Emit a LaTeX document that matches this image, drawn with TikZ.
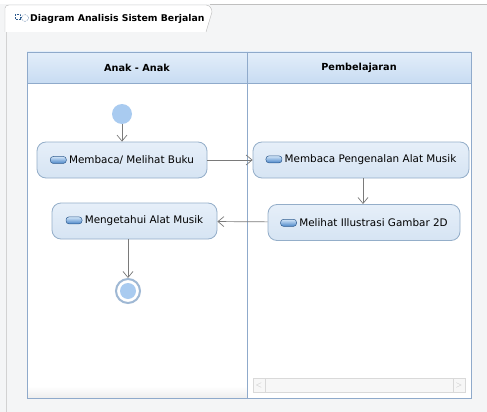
\documentclass[tikz,border=0pt]{standalone}
\usepackage{fontspec}
\setmainfont{DejaVu Sans}
\usetikzlibrary{arrows.meta}
\definecolor{bgc}{HTML}{F4F5F6}
\definecolor{lanec}{HTML}{8FAACB}
\definecolor{headtop}{HTML}{E3EEFA}
\definecolor{headbot}{HTML}{C8DCF2}
\definecolor{acttop}{HTML}{E6EFF9}
\definecolor{actbot}{HTML}{D6E4F3}
\definecolor{actdraw}{HTML}{94AEC9}
\definecolor{dotc}{HTML}{A9CBF0}
\definecolor{arrc}{HTML}{7A7A7A}
\definecolor{pilltop}{HTML}{D2E5F8}
\definecolor{pillbot}{HTML}{4A86C8}
\definecolor{pilldraw}{HTML}{2F5C8F}
\tikzset{
  act/.style={draw=actdraw, top color=acttop, bottom color=actbot, rounded corners=9pt, line width=0.8pt, minimum height=36pt, font=\fontsize{10.4}{12}\selectfont, inner sep=0pt},
  flow/.style={draw=arrc, line width=0.7pt, -{Straight Barb[length=6pt,width=10pt]}},
  lanehead/.style={font=\bfseries\fontsize{9.7}{11}\selectfont},
}
\newcommand{\pillicon}{\tikz[baseline=-6.5pt]\draw[draw=pilldraw, top color=pilltop, bottom color=pillbot, rounded corners=3pt, line width=0.5pt] (0,0.5pt) rectangle (16pt,-6.5pt);\hspace{2.5pt}}
\begin{document}
\begin{tikzpicture}[x=1pt,y=-1pt]
\useasboundingbox (0,0) rectangle (487,412);
\fill[bgc] (0,0) rectangle (487,412);
\fill[white] (0,0) rectangle (487,4);
\draw[gray!50] (210,4.5) -- (487,4.5);
\draw[gray!35] (6,32) -- (6,412);
% tab
\path[fill=white, draw=gray!55] (5,32) -- (5,8) to[out=90,in=180] (9,5) -- (206,5) to[out=0,in=90] (212,12) -- (206,32);
\node[anchor=west, font=\bfseries\fontsize{9.3}{10}\selectfont, inner sep=0pt] (title) at (30,18.5) {Diagram Analisis Sistem Berjalan};
\node[anchor=east, inner sep=0pt] (ticon) at (29,18) {\tikz{\draw[densely dotted, pilldraw, line width=0.5pt] (0,0) circle (3.5pt); \draw[densely dotted, pilldraw, line width=0.5pt] (-10pt,-1pt) rectangle (-5pt,3.5pt); \draw[pilldraw] (-5pt,1pt) -- (-3.5pt,1pt);}};
% lanes
\fill[white] (27,52) rectangle (471,398);
\shade[top color=headtop, bottom color=headbot] (27,52) rectangle (471,83);
\shade[top color=white, bottom color=gray!14] (27,386) rectangle (247,398);
\draw[lanec, line width=0.8pt] (27,52) rectangle (471,398);
\draw[lanec, line width=0.8pt] (27,83) -- (471,83);
\draw[lanec, line width=0.8pt] (247,52) -- (247,398);
\node[lanehead] (laneA) at (137,68) {Anak - Anak};
\node[lanehead] (laneB) at (359,68) {Pembelajaran};
% scrollbar
\draw[gray!30, fill=gray!6] (253,378) rectangle (465,392);
\draw[gray!30] (265,378) -- (265,392) (453,378) -- (453,392);
\node[text=gray!50, font=\fontsize{8}{8}\selectfont, inner sep=0pt] (sl) at (259,385) {$<$};
\node[text=gray!50, font=\fontsize{8}{8}\selectfont, inner sep=0pt] (sr) at (459,385) {$>$};
% nodes
\node[circle, fill=dotc, minimum size=20pt, inner sep=0pt] (start) at (122,114) {};
\node[act, minimum width=170pt] (a1) at (122,160) {\pillicon Membaca/ Melihat Buku};
\node[act, minimum width=216pt] (b1) at (361,160) {\pillicon Membaca Pengenalan Alat Musik};
\node[act, minimum width=192pt] (b2) at (364,222.5) {\pillicon Melihat Illustrasi Gambar 2D};
\node[act, minimum width=165pt] (a2) at (134.5,221) {\pillicon Mengetahui Alat Musik};
\node[circle, draw=gray!25!dotc, line width=2pt, fill=white, minimum size=24pt, inner sep=0pt] (endd) at (128,291) {};
\node[circle, fill=dotc, minimum size=16pt, inner sep=0pt] at (endd) (endin) {};
% flows
\draw[flow] (start) -- (start |- a1.north);
\draw[flow] (a1) -- (b1);
\draw[flow] (b1.south -| 363,0) -- (363,204);
\draw[flow] (b2) -- (a2);
\draw[flow] (a2.south -| endd) -- (endd.north);
\end{tikzpicture}
\end{document}
